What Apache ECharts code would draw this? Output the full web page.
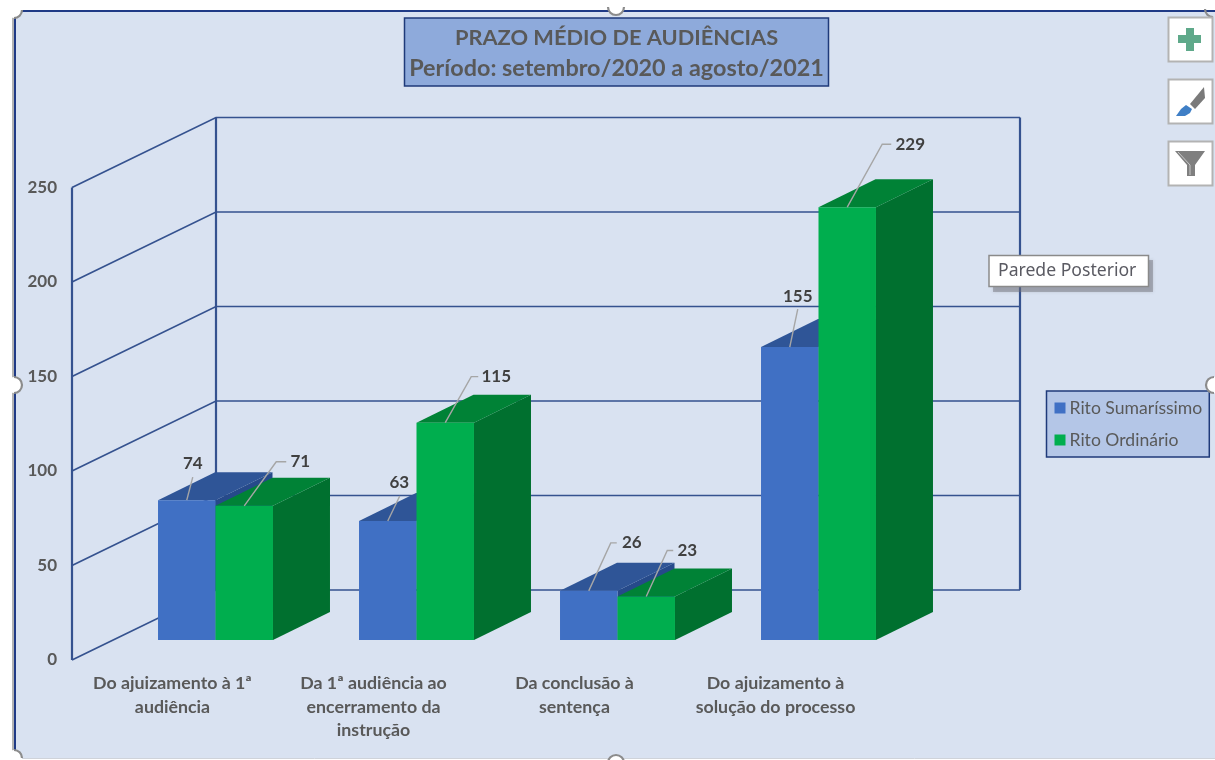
<!DOCTYPE html>
<html><head><meta charset="utf-8">
<style>html,body{margin:0;padding:0;background:#fff}#c{width:1215px;height:760px}</style>
<script src="https://cdn.jsdelivr.net/npm/echarts@6/dist/echarts.min.js"></script>
</head><body><div id="c"></div>
<script>
const categories = ['Do ajuizamento à 1ª\naudiência','Da 1ª audiência ao\nencerramento da\ninstrução','Da conclusão à\nsentença','Do ajuizamento à\nsolução do processo'];
const ritoSumarissimo = [74,63,26,155];
const ritoOrdinario = [71,115,23,229];
const axisTicks = [0,50,100,150,200,250];
const titleLines = ['PRAZO MÉDIO DE AUDIÊNCIAS','Período: setembro/2020 a agosto/2021'];

const FONT='Lato';
const wall={dx:144,dy:-70};
const front={dx:43,dy:-20};
const depth={dx:57,dy:-28};
const barShare=0.286;
const blueColors={front:'#4070c4',top:'#2f5597',side:'#264a8a'};
const greenColors={front:'#00ae4e',top:'#008236',side:'#00702f'};
const lineColor='#35528f';
// leader geometry [points..., text] relative to each bar's top-centre
const blueLeaders=[[[6,-23],[6,-23],[6,-37]],[[12,-25],[12,-25],[11.5,-38]],[[22,-48],[28,-48],[43,-48]],[[8,-38],[8,-38],[8,-51]]];
const greenLeaders=[[[32,-44],[42,-44],[56,-44]],[[26,-46],[33,-46],[51,-46]],[[21,-46],[27,-46],[41,-46]],[[35,-63],[44,-63],[63,-63]]];

function wallItem(params,api){
  const cs=params.coordSys, v=api.value(1);
  const y=api.coord([0,v])[1];
  const L=cs.x, R=cs.x+cs.width;
  const kids=[{type:'polyline',shape:{points:[[L,y],[L+wall.dx,y+wall.dy],[R+wall.dx,y+wall.dy]]},
    style:{fill:null,stroke:lineColor,lineWidth:1.7}}];
  if(params.dataIndex===0){
    const top=api.coord([0,axisTicks[axisTicks.length-1]])[1];
    kids.push({type:'line',shape:{x1:L,y1:top,x2:L,y2:y},style:{stroke:lineColor,lineWidth:2.2}});
    kids.push({type:'line',shape:{x1:L+wall.dx,y1:top+wall.dy,x2:L+wall.dx,y2:y+wall.dy},style:{stroke:lineColor,lineWidth:2.2}});
    kids.push({type:'line',shape:{x1:R+wall.dx,y1:top+wall.dy,x2:R+wall.dx,y2:y+wall.dy},style:{stroke:lineColor,lineWidth:2.2}});
  }
  return {type:'group',children:kids};
}
function barRenderer(side,col){
  return function(params,api){
    const i=api.value(0), v=api.value(1);
    const bw=api.size([1,0])[0]*barShare;
    const c=api.coord([i,v]), b=api.coord([i,0]);
    const cx=c[0]+front.dx;
    const x0=side<0?cx-bw:cx, x1=x0+bw;
    const yt=c[1]+front.dy, yb=b[1]+front.dy;
    const d=depth;
    return {type:'group',children:[
      {type:'polygon',shape:{points:[[x1,yt],[x1+d.dx,yt+d.dy],[x1+d.dx,yb+d.dy],[x1,yb]]},style:{fill:col.side}},
      {type:'polygon',shape:{points:[[x0,yt],[x0+d.dx,yt+d.dy],[x1+d.dx,yt+d.dy],[x1,yt]]},style:{fill:col.top}},
      {type:'rect',shape:{x:x0,y:yt,width:bw,height:yb-yt},style:{fill:col.front}}
    ]};
  };
}
function labelRenderer(side,leaders){
  return function(params,api){
    const i=api.value(0), v=api.value(1);
    const bw=api.size([1,0])[0]*barShare;
    const c=api.coord([i,v]);
    const mx=c[0]+front.dx+side*bw/2, my=c[1]+front.dy;
    const ld=leaders[params.dataIndex];
    return {type:'group',children:[
      {type:'polyline',shape:{points:[[mx,my],[mx+ld[0][0],my+ld[0][1]],[mx+ld[1][0],my+ld[1][1]]]},
        style:{fill:null,stroke:'#a6a6a6',lineWidth:1.4}},
      {type:'text',style:{x:mx+ld[2][0],y:my+ld[2][1],text:String(v),fill:'#404040',
        font:'bold 17px '+FONT,textAlign:'center',textVerticalAlign:'middle'}}
    ]};
  };
}
const pairs=a=>a.map((v,i)=>[i,v]);

const chart=echarts.init(document.getElementById('c'),null,{renderer:'canvas'});
const handle=(cx,cy,sa,ea)=>({type:'arc',z:50,shape:{cx,cy,r:8,startAngle:sa,endAngle:ea,clockwise:true},style:{fill:null,stroke:'#8c8c8c',lineWidth:2.2}});
const disc=(cx,cy)=>({type:'circle',z:49,shape:{cx,cy,r:8},style:{fill:'#fff'}});
const button=(y)=>({type:'rect',z:60,shape:{x:1168.5,y,width:44,height:44},style:{fill:'#fff',stroke:'#b3b3b3',lineWidth:2}});
const titleBase={fontFamily:FONT,fontWeight:'bold',lineHeight:31,color:'#595959'};
chart.setOption({
  animation:false,
  backgroundColor:'#fff',
  title:{text:'{a|'+titleLines[0]+'}\n{b|'+titleLines[1]+'}',left:611.5,top:18,textAlign:'center',
    backgroundColor:'#8eaadb',borderColor:'#1f3a7a',borderWidth:1.5,padding:[4,5,2,5],
    textStyle:Object.assign({fontSize:22,rich:{a:Object.assign({fontSize:21.8},titleBase),b:Object.assign({fontSize:23.4},titleBase)}},titleBase)},
  legend:{orient:'vertical',left:1046.5,top:391,itemWidth:11,itemHeight:11,itemGap:12,padding:[7,7,7,8],icon:'rect',
    backgroundColor:'#b4c6e7',borderColor:'#1f3a7a',borderWidth:1.5,
    textStyle:{fontFamily:FONT,fontSize:17.6,lineHeight:20,color:'#595959',padding:[0,0,0,-1]},
    data:['Rito Sumaríssimo','Rito Ordinário']},
  grid:{left:72,top:187.5,width:804,height:472.5,containLabel:false},
  xAxis:{type:'category',data:categories,axisLine:{show:false},axisTick:{show:false},splitLine:{show:false},
    axisLabel:{interval:0,margin:12,fontFamily:FONT,fontWeight:'bold',fontSize:17.8,lineHeight:23.5,color:'#595959'}},
  yAxis:{type:'value',min:0,max:250,interval:50,axisLine:{show:false},axisTick:{show:false},splitLine:{show:false},
    axisLabel:{margin:15,padding:[2,0,0,0],fontFamily:FONT,fontWeight:'bold',fontSize:17,color:'#595959'}},
  series:[
    {type:'custom',name:'wall',silent:true,z:1,data:axisTicks.map(t=>[0,t]),renderItem:wallItem,clip:false},
    {type:'custom',name:'Rito Sumaríssimo',z:3,data:pairs(ritoSumarissimo),encode:{x:0,y:1},itemStyle:{color:blueColors.front},renderItem:barRenderer(-1,blueColors),clip:false},
    {type:'custom',name:'Rito Ordinário',z:4,data:pairs(ritoOrdinario),encode:{x:0,y:1},itemStyle:{color:greenColors.front},renderItem:barRenderer(1,greenColors),clip:false},
    {type:'custom',name:'labelsA',z:5,silent:true,data:pairs(ritoSumarissimo),renderItem:labelRenderer(-1,blueLeaders),clip:false},
    {type:'custom',name:'labelsB',z:5,silent:true,data:pairs(ritoOrdinario),renderItem:labelRenderer(1,greenLeaders),clip:false}
  ],
  graphic:[
    {type:'rect',z:-20,shape:{x:14,y:11,width:1201,height:747},style:{fill:'#d9e2f1'}},
    {type:'line',z:-10,shape:{x1:14,y1:11,x2:1215,y2:11},style:{stroke:'#1f3a86',lineWidth:2}},
    {type:'line',z:-10,shape:{x1:15,y1:11,x2:15,y2:758},style:{stroke:'#1f3a86',lineWidth:2}},
    {type:'line',z:-10,shape:{x1:13,y1:11,x2:13,y2:758},style:{stroke:'#9a9a9a',lineWidth:1.5}},
    {type:'line',z:-10,shape:{x1:14,y1:758.5,x2:1215,y2:758.5},style:{stroke:'#cfd3da',lineWidth:1}},
    disc(14,385),handle(14,385,-Math.PI/2,Math.PI/2),
    disc(1214,385),handle(1214,385,Math.PI/2,Math.PI*1.5),
    disc(616,7),handle(616,7,0,Math.PI),
    disc(616,763),handle(616,763,Math.PI,Math.PI*2),
    disc(14,758),handle(14,758,-Math.PI/2,0),
    disc(14,10),handle(14,10,0,Math.PI/2),
    handle(1213,9,Math.PI/2,Math.PI),
    button(17.5),button(79.5),button(141.5),
    {type:'polygon',z:61,shape:{points:[[1186,28],[1194,28],[1194,35],[1201,35],[1201,43],[1194,43],[1194,51],[1186,51],[1186,43],[1178,43],[1178,35],[1186,35]]},style:{fill:'#5fa98a'}},
    {type:'polygon',z:61,shape:{points:[[1204,87],[1205,98],[1195,109],[1190,104]]},style:{fill:'#7a7a7a'}},
    {type:'polygon',z:61,shape:{points:[[1176,116],[1181,109],[1186,105],[1192,109],[1190,113],[1185,116]]},style:{fill:'#3f7fc6'}},
    {type:'polygon',z:61,shape:{points:[[1175,151],[1205,151],[1195,165],[1195,176],[1187,176],[1187,165]]},style:{fill:'#7f7f7f'}},
    {type:'polyline',z:62,shape:{points:[[1178,152],[1190,165],[1190,175]]},style:{fill:null,stroke:'#c8c8c8',lineWidth:1}},
    {type:'rect',z:70,shape:{x:993,y:260,width:160,height:32},style:{fill:'rgba(110,110,120,0.45)',shadowBlur:3,shadowColor:'rgba(110,110,120,0.5)'}},
    {type:'rect',z:71,shape:{x:989,y:255.5,width:159.5,height:31},style:{fill:'#fff',stroke:'#8a8a8a',lineWidth:1.5}},
    {type:'text',z:72,style:{x:998,y:271,text:'Parede Posterior',fill:'#5a5a62',font:'17.6px "Noto Sans"',textVerticalAlign:'middle'}}
  ]
});
</script></body></html>
